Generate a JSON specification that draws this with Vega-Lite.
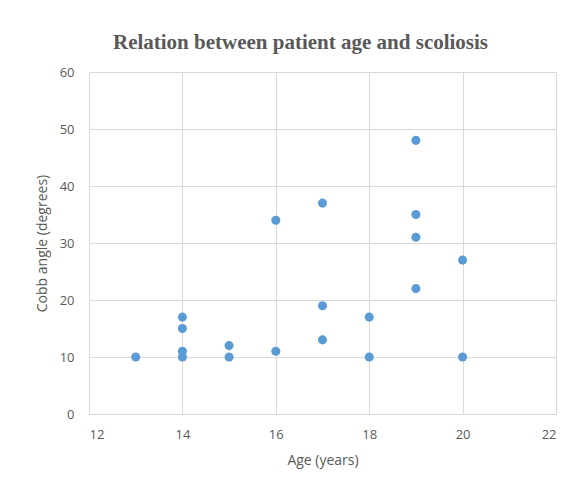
{
  "$schema": "https://vega.github.io/schema/vega-lite/v6.json",
  "autosize": {"type": "none"},
  "width": 467,
  "height": 342,
  "padding": {"left": 89, "top": 72, "right": 22, "bottom": 73},
  "background": "white",
  "title": {
    "text": "Relation between patient age and scoliosis",
    "font": "Liberation Serif",
    "fontSize": 21,
    "fontWeight": "bold",
    "color": "#595959",
    "anchor": "middle",
    "dx": -22,
    "offset": -4,
    "baseline": "alphabetic"
  },
  "data": {
    "values": [
      {"age": 13, "cobb": 10},
      {"age": 14, "cobb": 10},
      {"age": 14, "cobb": 11},
      {"age": 14, "cobb": 15},
      {"age": 14, "cobb": 17},
      {"age": 15, "cobb": 10},
      {"age": 15, "cobb": 12},
      {"age": 16, "cobb": 11},
      {"age": 16, "cobb": 34},
      {"age": 17, "cobb": 13},
      {"age": 17, "cobb": 19},
      {"age": 17, "cobb": 37},
      {"age": 18, "cobb": 10},
      {"age": 18, "cobb": 17},
      {"age": 19, "cobb": 22},
      {"age": 19, "cobb": 31},
      {"age": 19, "cobb": 35},
      {"age": 19, "cobb": 48},
      {"age": 20, "cobb": 10},
      {"age": 20, "cobb": 27}
    ]
  },
  "mark": {"type": "circle", "color": "#5b9bd5", "opacity": 1, "size": 82},
  "encoding": {
    "x": {
      "field": "age",
      "type": "quantitative",
      "title": "Age (years)",
      "scale": {"domain": [12, 22], "nice": false, "zero": false},
      "axis": {"values": [12, 14, 16, 18, 20, 22], "titlePadding": 12}
    },
    "y": {
      "field": "cobb",
      "type": "quantitative",
      "title": "Cobb angle (degrees)",
      "scale": {"domain": [0, 60], "nice": false},
      "axis": {"values": [0, 10, 20, 30, 40, 50, 60], "labelPadding": 15, "titlePadding": 10, "domain": false}
    }
  },
  "config": {
    "view": {"stroke": "#d9d9d9", "strokeWidth": 1},
    "axis": {
      "labelFont": "Open Sans",
      "labelFontSize": 13,
      "labelColor": "#595959",
      "titleFont": "Open Sans",
      "titleFontSize": 14,
      "titleFontWeight": "normal",
      "titleColor": "#595959",
      "gridColor": "#d9d9d9",
      "gridOpacity": 1,
      "domainColor": "#d9d9d9",
      "ticks": false,
      "labelPadding": 14
    }
  }
}
